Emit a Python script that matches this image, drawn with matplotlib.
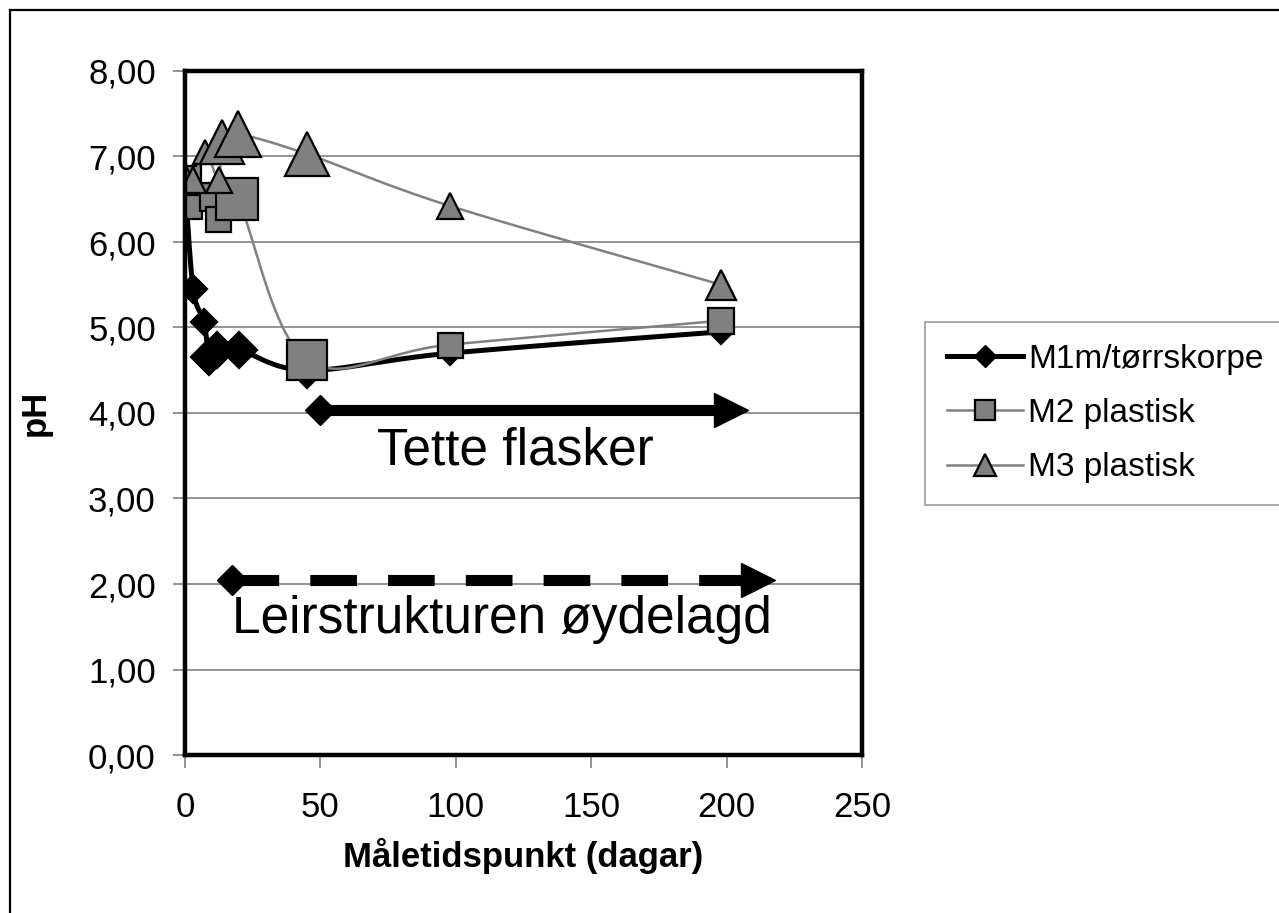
import matplotlib.pyplot as plt
import numpy as np
from matplotlib.lines import Line2D

plt.rcParams['font.family'] = ['Liberation Sans', 'DejaVu Sans']

# data (days, pH)
m1_days = [0, 3, 7, 9, 12, 20, 45, 98, 198]
m1_ph = [6.70, 5.45, 5.07, 4.65, 4.74, 4.74, 4.50, 4.70, 4.95]
m2_days = [0, 2, 10.7, 12.2, 19.3, 45, 98, 198]
m2_ph = [6.70, 6.41, 6.53, 6.27, 6.50, 4.62, 4.80, 5.08]
m3_days = [0, 3, 7.4, 12.6, 13.6, 19.6, 45, 98, 198]
m3_ph = [6.75, 6.72, 7.05, 6.72, 7.17, 7.26, 7.03, 6.42, 5.50]
labels = ['M1m/tørrskorpe', 'M2 plastisk', 'M3 plastisk']
yticks = [0, 1, 2, 3, 4, 5, 6, 7, 8]
xticks = [0, 50, 100, 150, 200, 250]

# marker sizes per point (style only)
m1_ms = [12, 14, 13, 18, 18, 18, 18, 12, 12]
m2_ms = [23, 17, 20, 18, 30, 29, 18, 19]
m3_ms = [20, 19, 17, 19, 31, 33, 32, 19, 21]


def smooth(x, y, n=30):
    """Excel-like smoothed line (Catmull-Rom bezier) through the points."""
    p = np.column_stack([x, y]).astype(float)
    p = np.vstack([p[0], p, p[-1]])
    out = []
    t = np.linspace(0, 1, n)[:, None]
    for i in range(1, len(p) - 2):
        p0, p3 = p[i], p[i + 1]
        p1 = p0 + (p[i + 1] - p[i - 1]) / 6
        p2 = p3 - (p[i + 2] - p[i]) / 6
        seg = (1 - t) ** 3 * p0 + 3 * (1 - t) ** 2 * t * p1 + 3 * (1 - t) * t ** 2 * p2 + t ** 3 * p3
        out.append(seg)
    out = np.vstack(out)
    return out[:, 0], out[:, 1]


fig = plt.figure(figsize=(12.79, 9.13), dpi=100)
ax = fig.add_axes([185 / 1279, 1 - 755 / 913, 677 / 1279, 684 / 913])

series = [
    (m1_days, m1_ph, m1_ms, 'D', '#000000', '#000000', 3.6),
    (m2_days, m2_ph, m2_ms, 's', '#808080', '#808080', 1.8),
    (m3_days, m3_ph, m3_ms, '^', '#808080', '#808080', 1.8),
]
for k, (xs, ys, ms, mk, lc, fc, lw) in enumerate(series):
    sx, sy = smooth(xs, ys)
    ax.plot(sx, sy, color=lc, lw=lw, zorder=3 + 2 * k, solid_capstyle='round')
    for xi, yi, si in zip(xs, ys, ms):
        ax.plot(xi, yi, marker=mk, ms=si, mfc=fc, mec='black', mew=1.6,
                ls='none', zorder=4 + 2 * k)

# "Tette flasker" arrow
ax.plot([50, 202], [4.03, 4.03], color='black', lw=8, solid_capstyle='butt', zorder=9)
ax.plot(50, 4.03, marker='D', ms=15, color='black', zorder=10)
ax.plot(201.7, 4.03, marker='>', ms=25, color='black', zorder=10)
ax.text(122, 3.55, 'Tette flasker', fontsize=37, ha='center', va='center', zorder=10)

# "Leirstrukturen øydelagd" dashed arrow
ax.plot([17.4, 212], [2.05, 2.05], color='black', lw=8, dashes=(4.2, 2.8),
        dash_capstyle='butt', zorder=9)
ax.plot(17.4, 2.05, marker='D', ms=15, color='black', zorder=10)
ax.plot(211.5, 2.05, marker='>', ms=25, color='black', zorder=10)
ax.text(117, 1.58, 'Leirstrukturen øydelagd', fontsize=37, ha='center', va='center', zorder=10)

ax.set_xlim(0, 250)
ax.set_ylim(0, 8)
ax.set_xticks(xticks)
ax.set_yticks(yticks)
ax.set_xticklabels([str(v) for v in xticks])
ax.set_yticklabels([f'{v:.2f}'.replace('.', ',') for v in yticks])
ax.tick_params(labelsize=25, color='#808080', length=9, width=1.2, direction='out')
ax.tick_params(axis='x', pad=17)
ax.tick_params(axis='y', pad=12)
ax.yaxis.grid(True, color='#808080', lw=1.2, zorder=1)
ax.set_axisbelow(True)
for s in ax.spines.values():
    s.set_linewidth(3.2)
    s.set_color('black')
    s.set_zorder(12)

ax.set_xlabel('Måletidspunkt (dagar)', fontsize=25, fontweight='bold', labelpad=10)
ax.set_ylabel('pH', fontsize=25, fontweight='bold', labelpad=26)

handles = [
    Line2D([], [], color='black', lw=3.6, marker='D', ms=11, mfc='black', mec='black'),
    Line2D([], [], color='#808080', lw=1.8, marker='s', ms=14, mfc='#808080', mec='black', mew=1.6),
    Line2D([], [], color='#808080', lw=1.8, marker='^', ms=16, mfc='#808080', mec='black', mew=1.6),
]
leg = fig.legend(handles, labels, loc='upper left', bbox_to_anchor=(925 / 1279, 1 - 322 / 913),
                 fontsize=24, frameon=True, fancybox=False, edgecolor='#808080',
                 borderaxespad=0, handlelength=2.3, handletextpad=0.15, labelspacing=0.7,
                 borderpad=0.65)
leg.get_frame().set_linewidth(1.2)

# outer border (top and left edges)
fig.add_artist(Line2D([10 / 1279, 10 / 1279], [0, 1 - 10 / 913], color='black', lw=1.6))
fig.add_artist(Line2D([10 / 1279, 1], [1 - 10 / 913, 1 - 10 / 913], color='black', lw=1.6))

fig.savefig('out.png', dpi=100)
